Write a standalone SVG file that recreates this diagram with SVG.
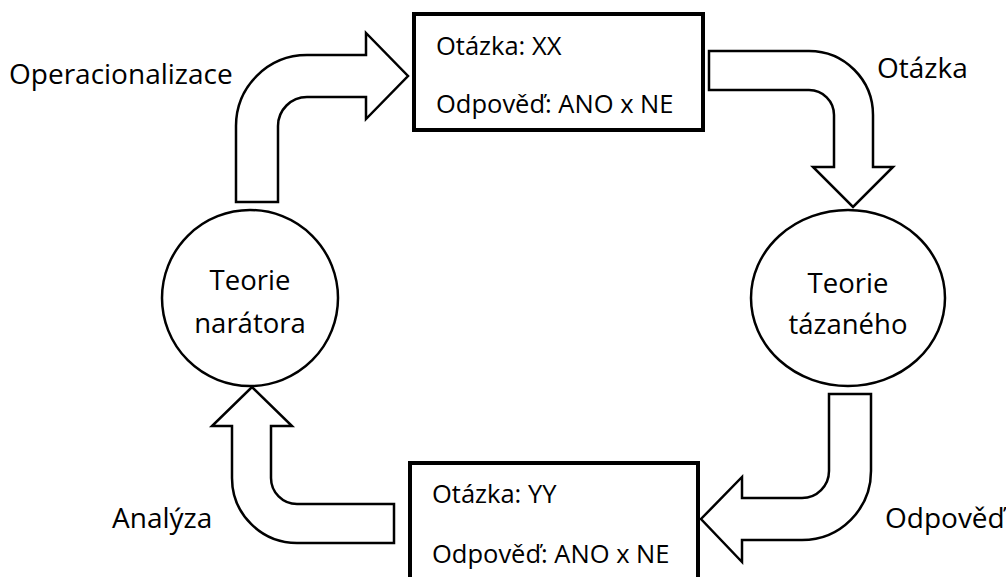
<svg xmlns="http://www.w3.org/2000/svg" width="1006" height="577" viewBox="0 0 1006 577">
<style>
.t{font-family:"Open Sans","Noto Sans",sans-serif;font-size:25.5px;fill:#000}
.lbl{font-size:28px}
.nd{font-size:27.5px;text-anchor:middle}
.arrow{fill:#fff;stroke:#000;stroke-width:2.5;stroke-linejoin:miter}
.box{fill:#fff;stroke:#000;stroke-width:4}
.ell{fill:#fff;stroke:#000;stroke-width:2.5}
</style>
<rect width="1006" height="577" fill="#fff"/>
<g id="connectors">
<path class="arrow" d="M236,202 L236,126 A71,71 0 0 1 307,55 L366,55 L366,33 L408,76 L366,119 L366,97 L307,97 A29,29 0 0 0 278,126 L278,202 Z"/>
<path class="arrow" d="M709,51 L809,51 A64,64 0 0 1 873,115 L873,167 L893,167 L853,207 L813,167 L834,167 L834,115 A25,25 0 0 0 809,90 L709,90 Z"/>
<path class="arrow" d="M829,394 L871,394 L871,471 A69,69 0 0 1 802,540 L742,540 L742,562 L701,519 L742,477 L742,498 L802,498 A27,27 0 0 0 829,471 Z"/>
<path class="arrow" d="M394,504 L394,543 L297,543 A65,65 0 0 1 232,478 L232,426 L212,426 L252,387 L292,426 L271,426 L271,478 A26,26 0 0 0 297,504 Z"/>
<text class="t lbl" x="9" y="84">Operacionalizace</text>
<text class="t lbl" x="877" y="78">Otázka</text>
<text class="t lbl" x="112" y="528">Analýza</text>
<text class="t lbl" x="885" y="528">Odpověď</text>
</g>
<g id="box-top">
<rect class="box" x="414" y="14" width="289" height="116"/>
<text class="t" x="436" y="55">Otázka: XX</text>
<text class="t" x="436" y="113">Odpověď: ANO x NE</text>
</g>
<g id="box-bottom">
<rect class="box" x="410" y="463" width="288" height="140"/>
<text class="t" x="432" y="503">Otázka: YY</text>
<text class="t" x="432" y="563">Odpověď: ANO x NE</text>
</g>
<g id="node-narator">
<ellipse class="ell" cx="250" cy="298" rx="88" ry="88"/>
<text class="t nd" x="250" y="290">Teorie</text>
<text class="t nd" x="250" y="333">narátora</text>
</g>
<g id="node-tazany">
<ellipse class="ell" cx="848" cy="298" rx="97" ry="88"/>
<text class="t nd" x="848" y="293">Teorie</text>
<text class="t nd" x="848" y="334">tázaného</text>
</g>
</svg>
